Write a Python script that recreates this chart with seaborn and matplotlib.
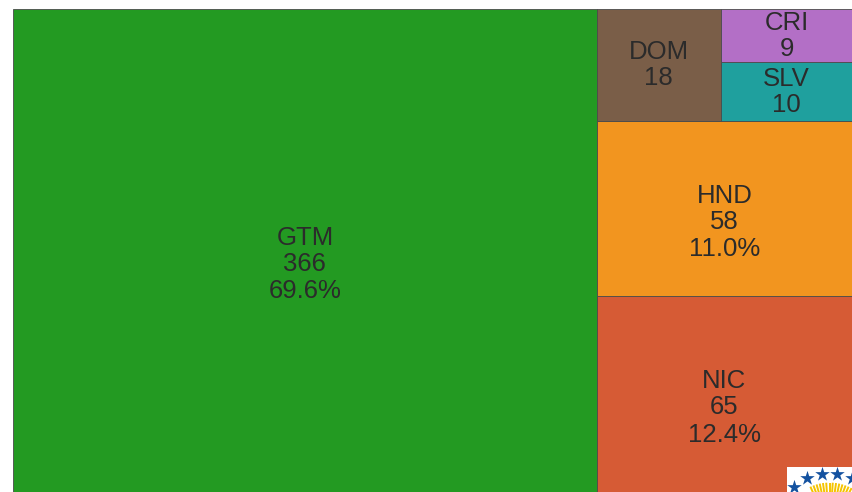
import numpy as np
import pandas as pd
import seaborn as sns
import matplotlib
matplotlib.use("Agg")
import matplotlib.pyplot as plt
from matplotlib.patches import Rectangle

# ---- data ----
countries = ["GTM", "NIC", "HND", "DOM", "SLV", "CRI"]
counts = [366, 65, 58, 18, 10, 9]
colors = ["#239a22", "#d65b35", "#f2951f", "#7a5e48", "#1fa09e", "#b36fc6"]

df = pd.DataFrame({"country": countries, "count": counts, "color": colors})
df["share"] = df["count"] / df["count"].sum() * 100

sns.set_theme(style="white")
plt.rcParams["font.family"] = ["Liberation Sans", "DejaVu Sans"]

W, H = 839.0, 483.0  # drawing extent (aspect matters for the tiling)


def squarify(values, x0, y0, x1, y1, ratio=1.4):
    """d3-style squarified tiling (y axis pointing up)."""
    rects = [None] * len(values)
    i0, n = 0, len(values)
    value = float(sum(values))
    while i0 < n:
        dx, dy = x1 - x0, y1 - y0
        sum_v = values[i0]
        min_v = max_v = sum_v
        alpha = max(dy / dx, dx / dy) / (value * ratio)
        beta = sum_v * sum_v * alpha
        min_ratio = max(max_v / beta, beta / min_v)
        i1 = i0 + 1
        while i1 < n:
            v = values[i1]
            sum_v += v
            min_v = min(min_v, v)
            max_v = max(max_v, v)
            beta = sum_v * sum_v * alpha
            new_ratio = max(max_v / beta, beta / min_v)
            if new_ratio > min_ratio:
                sum_v -= v
                break
            min_ratio = new_ratio
            i1 += 1
        row = list(range(i0, i1))
        if dx < dy:  # dice: horizontal strip along bottom
            h = dy * sum_v / value
            xx = x0
            for k in row:
                w = dx * values[k] / sum_v
                rects[k] = (xx, y0, w, h)
                xx += w
            y0 += h
        else:  # slice: vertical strip on the left
            w = dx * sum_v / value
            yy = y0
            for k in row:
                h = dy * values[k] / sum_v
                rects[k] = (x0, yy, w, h)
                yy += h
            x0 += w
        value -= sum_v
        i0 = i1
    return rects


rects = squarify(df["count"].tolist(), 0, 0, W, H)

fig = plt.figure(figsize=(8.52, 4.92), dpi=100)
ax = fig.add_axes([13 / 852, 0, 839 / 852, 483 / 492])
ax.set_xlim(0, W)
ax.set_ylim(0, H)
ax.axis("off")

txt_color = "#2b2b2b"
fs = 18.5
pt = 72 / 100.0  # points per pixel
for (x, y, w, h), row in zip(rects, df.itertuples()):
    ax.add_patch(Rectangle((x, y), w, h, facecolor=row.color,
                           edgecolor="#4a4a4a", linewidth=0.6))
    cx, cy = x + w / 2, y + h / 2
    lines = [row.country, f"{row.count}"]
    if row.share >= 5:
        lines.append(f"{row.share:.1f}%")
    offsets = [5.5, -20.5, -48.0]  # baseline offsets in pixels (up positive)
    for line, off in zip(lines, offsets):
        ax.annotate(line, (cx, cy), xytext=(0, off * pt), textcoords="offset points",
                    ha="center", va="baseline", fontsize=fs, color=txt_color)

# small logo in the bottom-right corner (partly cut off)
lax = fig.add_axes([787 / 852, 0, 65 / 852, 25 / 492])
lax.set_xlim(0, 65)
lax.set_ylim(0, 25)
lax.axis("off")
lax.add_patch(Rectangle((0, 0), 65, 25, facecolor="white", edgecolor="none"))
ccx, ccy = 42.5, -37.6
ang = np.array([146, 130, 114, 98, 82, 66, 50])
lax.scatter(ccx + 56 * np.cos(np.radians(ang)), ccy + 56 * np.sin(np.radians(ang)),
            marker="*", s=120, color="#1452a0", linewidths=0, clip_on=True)
for a in np.linspace(114, 58, 15):
    r0, r1 = 37, 47
    lax.plot([ccx + r0 * np.cos(np.radians(a)), ccx + r1 * np.cos(np.radians(a))],
             [ccy + r0 * np.sin(np.radians(a)), ccy + r1 * np.sin(np.radians(a))],
             color="#f5c400", lw=1.4, solid_capstyle="butt")

fig.savefig("out.png", dpi=100)
